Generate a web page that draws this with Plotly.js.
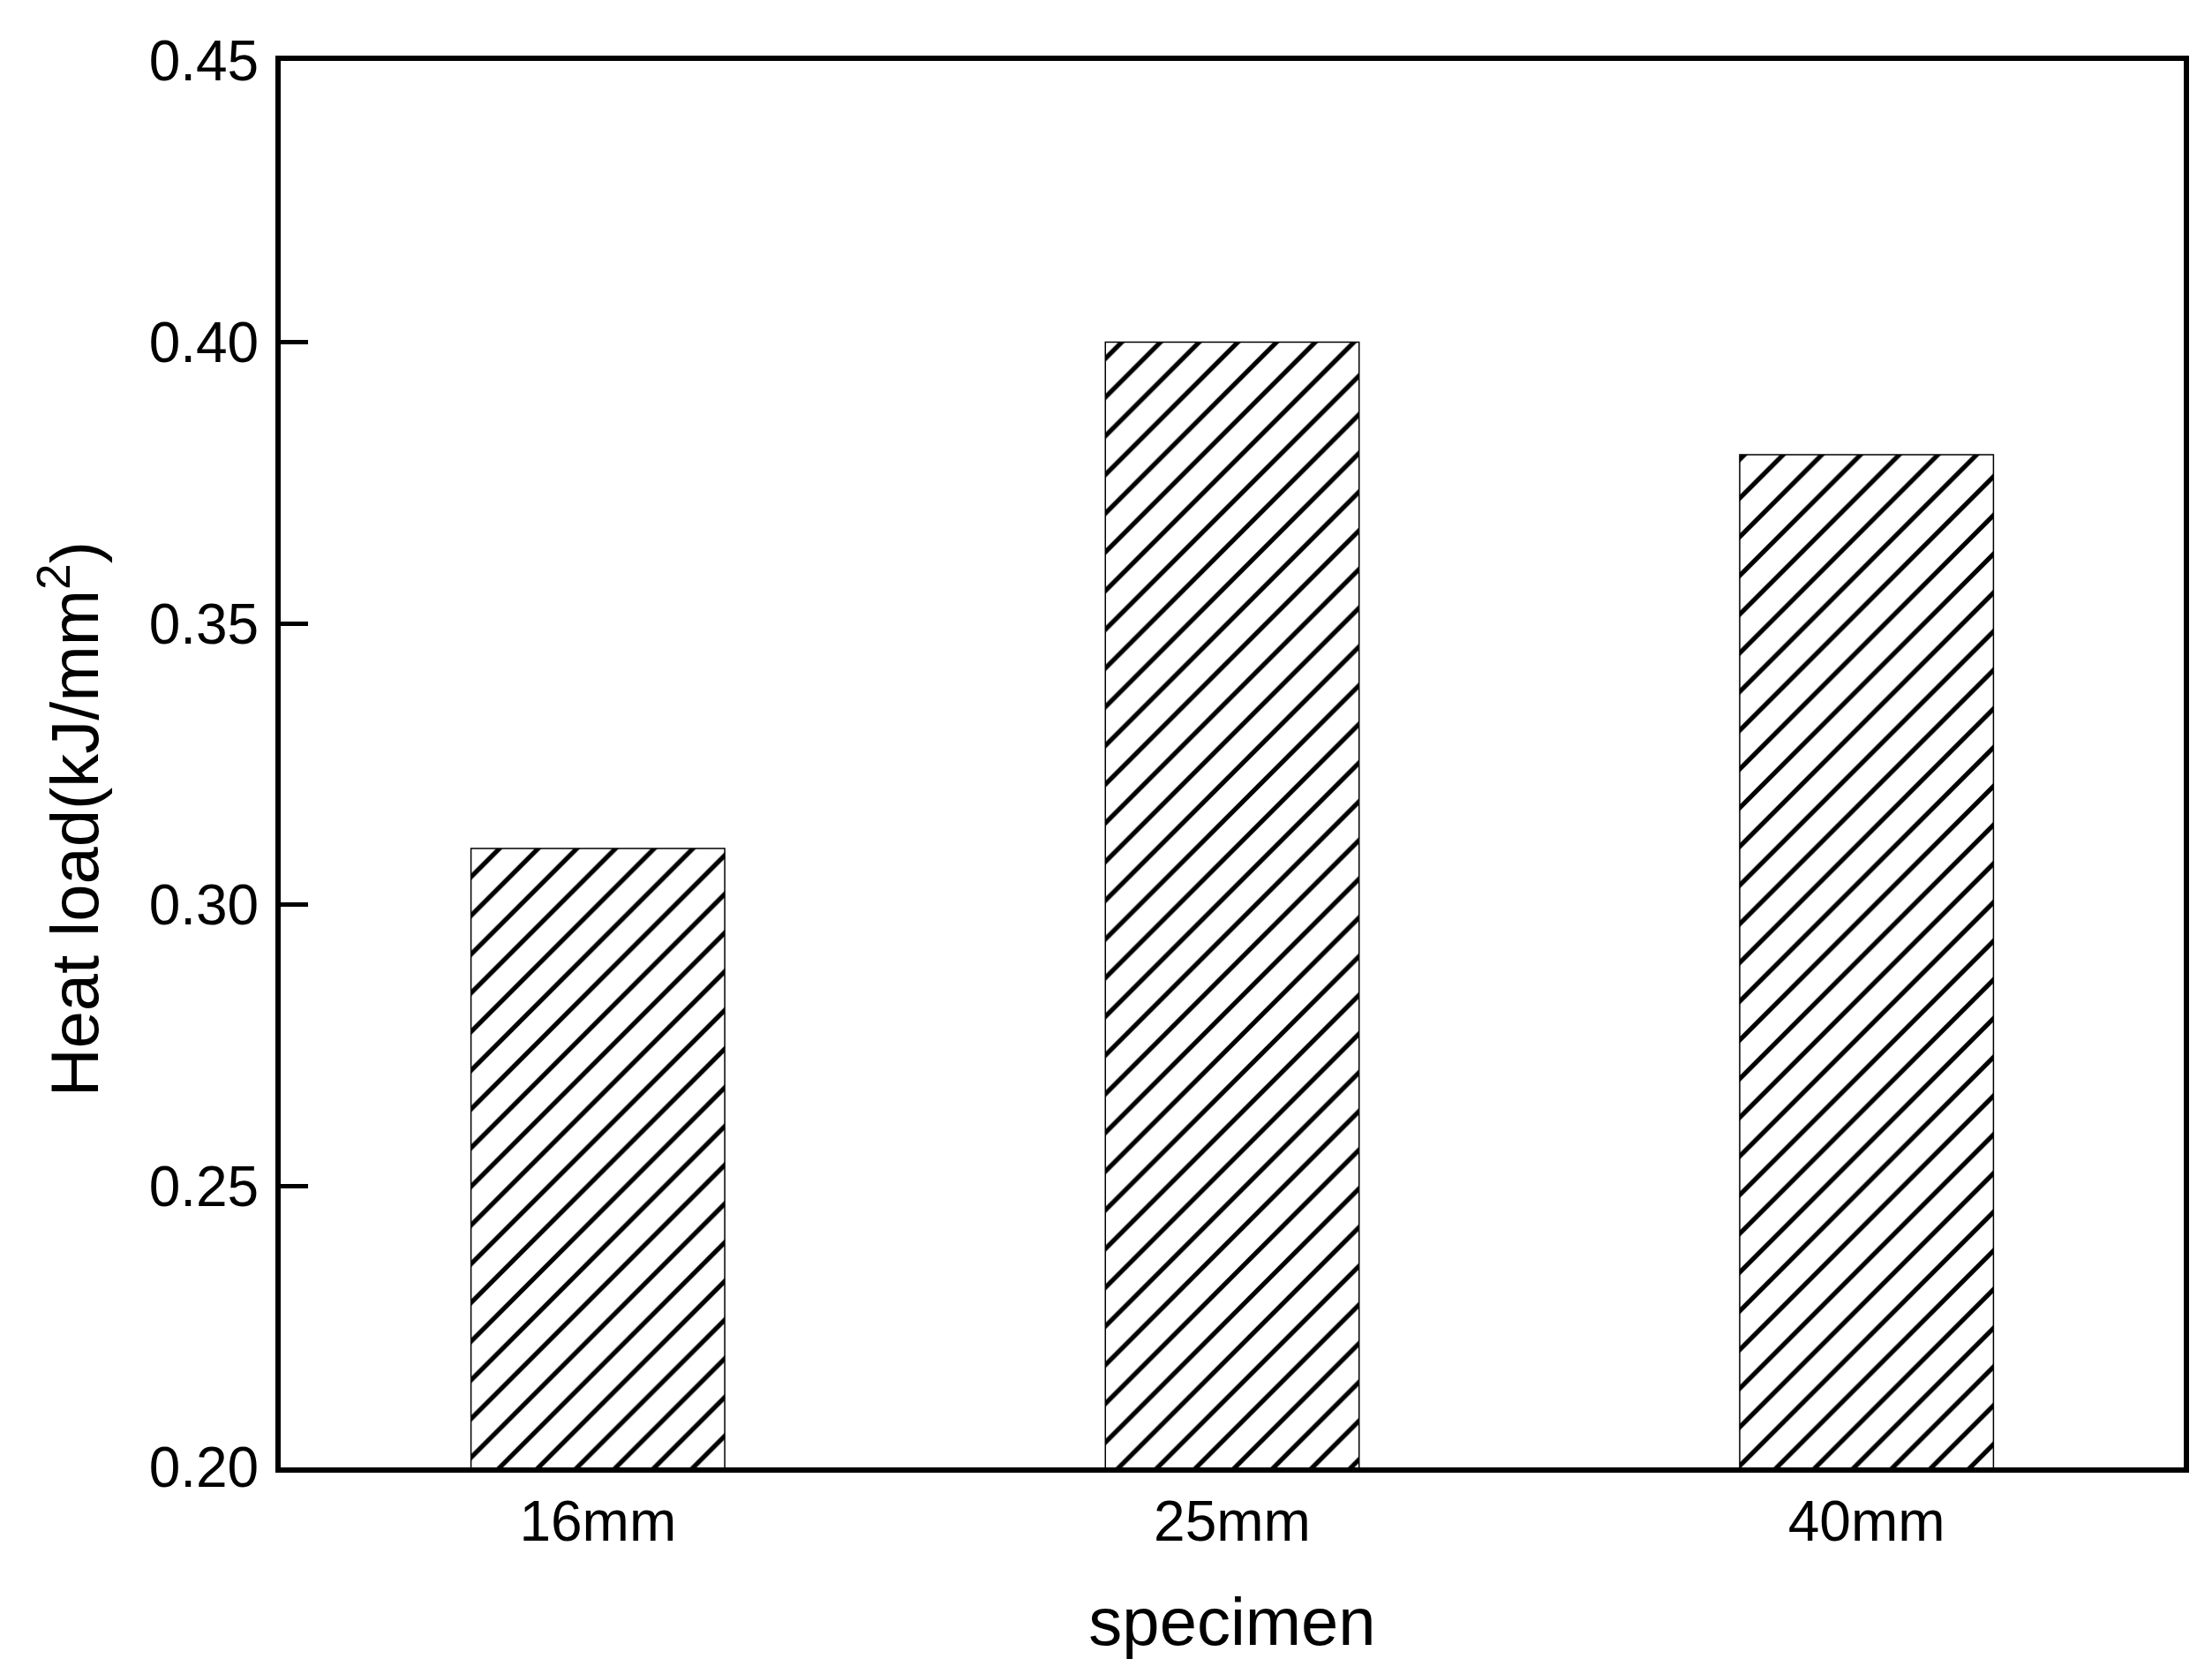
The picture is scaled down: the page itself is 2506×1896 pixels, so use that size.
<!DOCTYPE html>
<html>
<head>
<meta charset="utf-8">
<script src="https://cdn.plot.ly/plotly-3.0.1.min.js"></script>
<style>
  html, body { margin: 0; padding: 0; background: #fff; }
  #plot { width: 2506px; height: 1896px; }
</style>
</head>
<body>
<div id="plot"></div>
<script>
var specimens = ['16mm', '25mm', '40mm'];
var heat_load = [0.31, 0.40, 0.38];
var y_ticks = [0.20, 0.25, 0.30, 0.35, 0.40, 0.45];
var y_tick_labels = ['0.20', '0.25', '0.30', '0.35', '0.40', '0.45'];

var font_name = '"Liberation Sans", Arial, sans-serif';

var trace1 = {
  x: specimens,
  y: heat_load,
  type: 'bar',
  width: 0.4,
  marker: {
    color: 'white',
    line: {color: 'black', width: 1.5},
    pattern: {
      shape: '/',
      size: 31,
      solidity: 0.17,
      fgcolor: 'black',
      fgopacity: 1,
      bgcolor: 'white',
      fillmode: 'replace'
    }
  },
  hoverinfo: 'skip'
};

var layout = {
  width: 2506,
  height: 1896,
  margin: {l: 318, r: 32, t: 69, b: 234},
  paper_bgcolor: 'white',
  plot_bgcolor: 'white',
  showlegend: false,
  font: {family: font_name, color: 'black'},
  xaxis: {
    range: [-0.5, 2.5],
    showline: true,
    linecolor: 'black',
    linewidth: 6,
    mirror: true,
    ticks: '',
    showgrid: false,
    zeroline: false,
    tickfont: {size: 64, family: font_name},
    ticklabelstandoff: 0,
    title: {text: 'specimen', font: {size: 76, family: font_name}, standoff: 54}
  },
  yaxis: {
    range: [0.2, 0.45],
    tickvals: y_ticks,
    ticktext: y_tick_labels,
    showline: true,
    linecolor: 'black',
    linewidth: 6,
    mirror: true,
    ticks: 'inside',
    ticklen: 31,
    tickwidth: 5,
    tickcolor: 'black',
    showgrid: false,
    zeroline: false,
    tickfont: {size: 64, family: font_name},
    ticklabelstandoff: 6
  },
  annotations: [{
    text: 'Heat load(kJ/mm<sup>2</sup>)',
    xref: 'paper',
    yref: 'paper',
    x: -0.111,
    y: 0.461,
    xanchor: 'center',
    yanchor: 'middle',
    textangle: -90,
    showarrow: false,
    font: {size: 76, family: font_name, color: 'black'}
  }]
};

Plotly.newPlot('plot', [trace1], layout, {staticPlot: true});
</script>
</body>
</html>
